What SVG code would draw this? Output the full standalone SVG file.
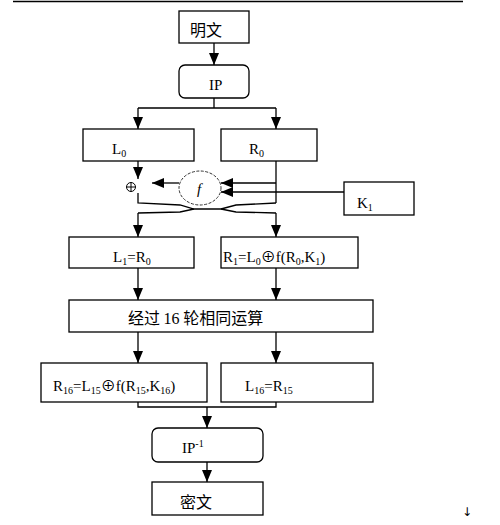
<svg xmlns="http://www.w3.org/2000/svg" width="500" height="525" viewBox="0 0 500 525">
<style>
.box{fill:#fff;stroke:#000;stroke-width:1.3}
.ln{fill:none;stroke:#000;stroke-width:1.3}
.t{font-family:"Liberation Serif","Noto Sans CJK SC",serif;font-size:15px;fill:#000}
.c{font-family:"Noto Sans CJK SC","Liberation Serif",sans-serif;font-size:16px;fill:#000}
.s{font-size:10px}
</style>
<defs>
<marker id="ah" markerUnits="userSpaceOnUse" markerWidth="12" markerHeight="10" refX="12" refY="5" orient="auto">
<path d="M0,0 L12,5 L0,10 z" fill="#000"/>
</marker>
</defs>
<rect width="500" height="525" fill="#fff"/>
<line x1="13" y1="1.5" x2="463" y2="1.5" stroke="#000" stroke-width="1.6"/>
<g id="connectors">
<path class="ln" d="M214,43 V65" marker-end="url(#ah)"/>
<path class="ln" d="M214,98 V108 M138,108 H276"/>
<path class="ln" d="M138,108 V129" marker-end="url(#ah)"/>
<path class="ln" d="M276,108 V129" marker-end="url(#ah)"/>
<path class="ln" d="M138,161 V179" marker-end="url(#ah)"/>
<path class="ln" d="M179,183 H152" marker-end="url(#ah)"/>
<path class="ln" d="M276,161 V203"/>
<path class="ln" d="M276,183 H221" marker-end="url(#ah)"/>
<path class="ln" d="M344,192 H221" marker-end="url(#ah)"/>
<path class="ln" d="M138,193 V203 L180,205 L194,209 L221,209 L236,212 L276,213"/>
<path class="ln" d="M276,203 L236,205 L221,209 M194,209 L180,212 L138,213"/>
<path class="ln" d="M138,213 V237" marker-end="url(#ah)"/>
<path class="ln" d="M276,213 V237" marker-end="url(#ah)"/>
<path class="ln" d="M138,268 V300" marker-end="url(#ah)"/>
<path class="ln" d="M276,268 V300" marker-end="url(#ah)"/>
<path class="ln" d="M138,332 V363" marker-end="url(#ah)"/>
<path class="ln" d="M276,332 V363" marker-end="url(#ah)"/>
<path class="ln" d="M138,402 V407 H276 V402"/>
<path class="ln" d="M207,407 V428" marker-end="url(#ah)"/>
<path class="ln" d="M207,462 V482" marker-end="url(#ah)"/>
</g>
<g id="plaintext"><rect class="box" x="179" y="11" width="70" height="32"/><text class="c" x="190" y="36">明文</text></g>
<g id="ip"><rect class="box" x="179" y="65" width="70" height="33" rx="6"/><text class="t" x="209" y="90">IP</text></g>
<g id="l0"><rect class="box" x="83" y="129" width="111" height="32"/><text class="t" x="112" y="154">L<tspan class="s" dy="3">0</tspan></text></g>
<g id="r0"><rect class="box" x="221" y="129" width="96" height="32"/><text class="t" x="249" y="154">R<tspan class="s" dy="3">0</tspan></text></g>
<g id="xor"><circle cx="131" cy="187" r="4.5" fill="none" stroke="#000" stroke-width="1"/><path d="M126.5,187 H135.5 M131,182.5 V191.5" stroke="#000" stroke-width="1"/></g>
<g id="f"><ellipse cx="200" cy="188" rx="21" ry="17" fill="#fff" stroke="#333" stroke-width="1" stroke-dasharray="3,1.5"/><text class="t" x="197" y="194" font-size="13" font-style="italic">f</text></g>
<g id="k1"><rect class="box" x="344" y="182" width="70" height="33"/><text class="t" x="357" y="208">K<tspan class="s" dy="3">1</tspan></text></g>
<g id="l1"><rect class="box" x="69" y="237" width="125" height="31"/><text class="t" x="113" y="262">L<tspan class="s" dy="3">1</tspan><tspan dy="-3">=R</tspan><tspan class="s" dy="3">0</tspan></text></g>
<g id="r1"><rect class="box" x="221" y="237" width="137" height="31"/><text class="t" x="223" y="262">R<tspan class="s" dy="3">1</tspan><tspan dy="-3">=L</tspan><tspan class="s" dy="3">0</tspan><tspan dy="-3">⊕f(R</tspan><tspan class="s" dy="3">0</tspan><tspan dy="-3">,K</tspan><tspan class="s" dy="3">1</tspan><tspan dy="-3">)</tspan></text></g>
<g id="rounds"><rect class="box" x="69" y="300" width="304" height="32"/><text class="c" x="128" y="324">经过 <tspan font-family="Liberation Serif">16</tspan> 轮相同运算</text></g>
<g id="r16"><rect class="box" x="41" y="363" width="166" height="39"/><text class="t" x="53" y="391">R<tspan class="s" dy="3">16</tspan><tspan dy="-3">=L</tspan><tspan class="s" dy="3">15</tspan><tspan dy="-3">⊕f(R</tspan><tspan class="s" dy="3">15</tspan><tspan dy="-3">,K</tspan><tspan class="s" dy="3">16</tspan><tspan dy="-3">)</tspan></text></g>
<g id="l16"><rect class="box" x="221" y="363" width="152" height="39"/><text class="t" x="245" y="391">L<tspan class="s" dy="3">16</tspan><tspan dy="-3">=R</tspan><tspan class="s" dy="3">15</tspan></text></g>
<g id="ipinv"><rect class="box" x="152" y="428" width="111" height="34" rx="6"/><text class="t" x="182" y="453">IP<tspan class="s" dy="-6">-1</tspan></text></g>
<g id="ciphertext"><rect class="box" x="152" y="482" width="111" height="33"/><text class="c" x="180" y="508">密文</text></g>
<text x="462" y="516" font-family="DejaVu Sans,sans-serif" font-size="12" fill="#000">↓</text>
</svg>
